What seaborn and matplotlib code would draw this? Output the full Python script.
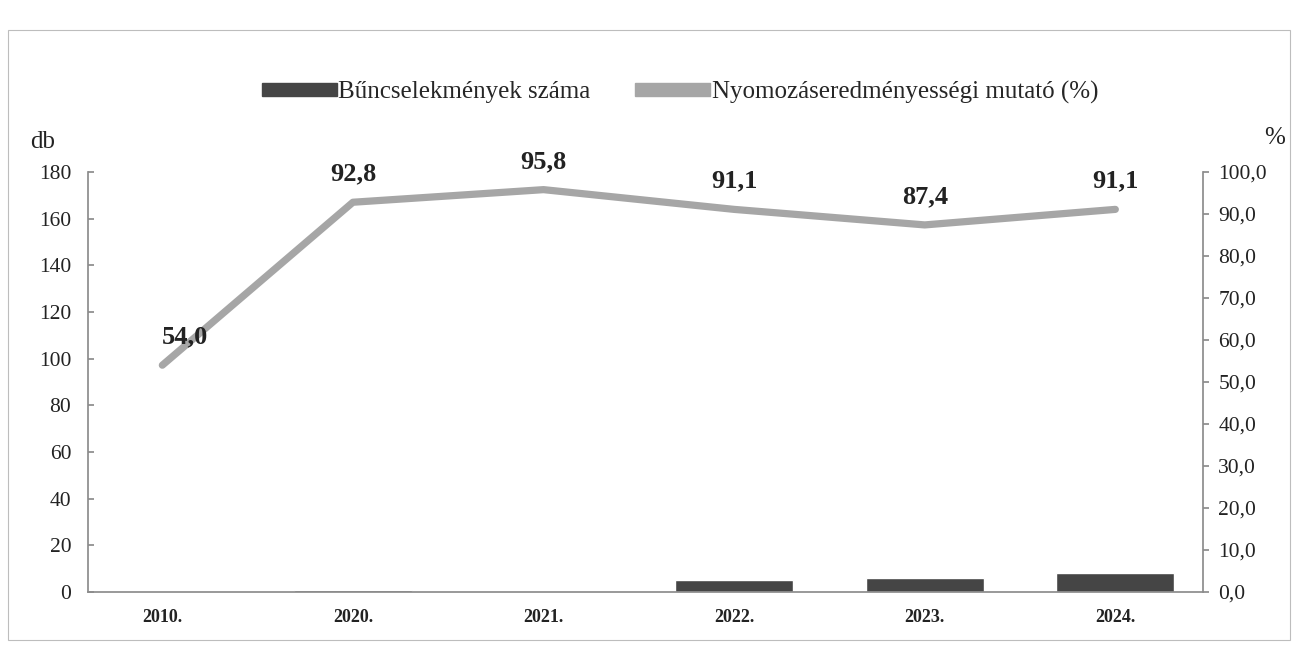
import numpy as np
import pandas as pd
import seaborn as sns
import matplotlib.pyplot as plt
from matplotlib.patches import Patch, Rectangle

sns.set_theme(style='white')
plt.rcParams['font.family'] = ['Liberation Serif', 'DejaVu Serif']

# Adatok
evek = ['2010.', '2020.', '2021.', '2022.', '2023.', '2024.']
bcs_szama = [0, 1, 0, 5, 6, 8]
mutato = [54.0, 92.8, 95.8, 91.1, 87.4, 91.1]

df = pd.DataFrame({'ev': evek, 'db': bcs_szama, 'pct': mutato})

bar_color = '#454545'
line_color = '#a6a6a6'

fig = plt.figure(figsize=(12.95, 6.53), dpi=100)
ax = fig.add_axes([88 / 1295, 1 - 592 / 653, (1203 - 88) / 1295, (592 - 172) / 653])

sns.barplot(data=df, x='ev', y='db', color=bar_color, width=0.62, saturation=1, ax=ax)

ax2 = ax.twinx()
sns.lineplot(x=np.arange(len(evek)), y=df['pct'], color=line_color, linewidth=5.2, ax=ax2)

# adatcímkék
for i, v in enumerate(mutato):
    dx = 0.12 if i == 0 else 0
    ax2.text(i + dx, v + 4.0, f'{v:.1f}'.replace('.', ','), ha='center', va='bottom',
             fontsize=19, fontweight='bold', color='#222222')

ax.set_xlim(-0.39, 5.46)
ax.set_ylim(0, 180)
ax.set_yticks(range(0, 181, 20))
ax2.set_ylim(0, 100)
ax2.set_yticks(range(0, 101, 10))
ax2.set_yticklabels([f'{t:.1f}'.replace('.', ',') for t in range(0, 101, 10)])

ax.set_xlabel('')
ax.set_ylabel('')
ax2.set_ylabel('')

for a in (ax, ax2):
    a.spines['top'].set_visible(False)
ax.spines['right'].set_visible(False)
ax2.spines['left'].set_visible(False)
ax.spines['left'].set_color('#8c8c8c')
ax.spines['bottom'].set_color('#8c8c8c')
ax2.spines['right'].set_color('#8c8c8c')
ax2.spines['bottom'].set_visible(False)

ax.tick_params(axis='y', labelsize=15.5, colors='#222222', length=4, direction='in', pad=12, color='#8c8c8c')
ax.tick_params(axis='y', left=True)
ax2.tick_params(axis='y', labelsize=15.5, colors='#222222', length=4, direction='out', pad=7, color='#8c8c8c', right=True)
ax.tick_params(axis='x', length=0, pad=12)
for lbl in ax.get_xticklabels():
    lbl.set_fontweight('bold')
    lbl.set_fontsize(13)
    lbl.set_color('#222222')

fig.text(30 / 1295, 1 - 142 / 653, 'db', fontsize=18, ha='left', va='center', color='#222222')
fig.text(1285 / 1295, 1 - 138 / 653, '%', fontsize=18, ha='right', va='center', color='#222222')

handles = [Patch(color=bar_color), Patch(color=line_color)]
fig.legend(handles, ['Bűncselekmények száma', 'Nyomozáseredményességi mutató (%)'],
           loc='center', bbox_to_anchor=(680 / 1295, 1 - 92 / 653), ncol=2, frameon=False,
           fontsize=18, handlelength=3.0, handleheight=0.45, handletextpad=0.05, columnspacing=1.8)

# keret
fig.patches.append(Rectangle((8 / 1295, 13 / 653), 1282 / 1295, 610 / 653, transform=fig.transFigure,
                             fill=False, edgecolor='#bdbdbd', linewidth=0.8))

fig.savefig('out.png', dpi=100)
